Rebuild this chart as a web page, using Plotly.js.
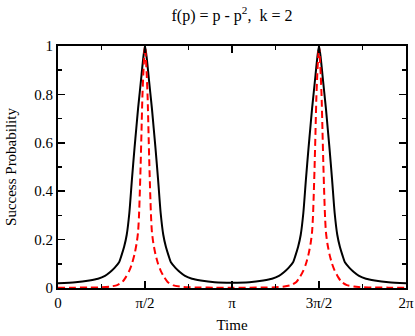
<!DOCTYPE html>
<html>
<head>
<meta charset="utf-8">
<script src="https://cdn.plot.ly/plotly-3.0.1.min.js"></script>
<style>
  body { margin: 0; background: #fff; }
  #graph { width: 415px; height: 336px; }
</style>
</head>
<body>
<div id="graph"></div>
<script>
// time in units of pi
const blackX = [0, 0.1, 0.18, 0.23, 0.27, 0.3, 0.325, 0.35, 0.365, 0.38, 0.395, 0.41, 0.425, 0.44, 0.45, 0.46, 0.47, 0.48, 0.49, 0.5,
  0.51, 0.52, 0.53, 0.54, 0.55, 0.56, 0.575, 0.59, 0.605, 0.62, 0.635, 0.65, 0.675, 0.7, 0.73, 0.77, 0.82, 0.9, 1.0,
  1.1, 1.18, 1.23, 1.27, 1.3, 1.325, 1.35, 1.365, 1.38, 1.395, 1.41, 1.425, 1.44, 1.45, 1.46, 1.47, 1.48, 1.49, 1.5,
  1.51, 1.52, 1.53, 1.54, 1.55, 1.56, 1.575, 1.59, 1.605, 1.62, 1.635, 1.65, 1.675, 1.7, 1.73, 1.77, 1.82, 1.9, 2.0];
const blackY = [0.02, 0.024, 0.031, 0.038, 0.05, 0.066, 0.083, 0.105, 0.135, 0.17, 0.22, 0.31, 0.45, 0.58, 0.66, 0.74, 0.81, 0.88, 0.95, 1.0,
  0.95, 0.88, 0.81, 0.74, 0.66, 0.58, 0.45, 0.31, 0.22, 0.17, 0.135, 0.105, 0.083, 0.066, 0.05, 0.038, 0.031, 0.024, 0.022,
  0.024, 0.031, 0.038, 0.05, 0.066, 0.083, 0.105, 0.135, 0.17, 0.22, 0.31, 0.45, 0.58, 0.66, 0.74, 0.81, 0.88, 0.95, 1.0,
  0.95, 0.88, 0.81, 0.74, 0.66, 0.58, 0.45, 0.31, 0.22, 0.17, 0.135, 0.105, 0.083, 0.066, 0.05, 0.038, 0.031, 0.024, 0.02];

const redX = [0, 0.1, 0.18, 0.25, 0.3, 0.34, 0.37, 0.39, 0.41, 0.425, 0.44, 0.452, 0.46, 0.465, 0.47, 0.475, 0.48, 0.485, 0.49, 0.495, 0.5,
  0.505, 0.51, 0.515, 0.52, 0.525, 0.53, 0.535, 0.54, 0.548, 0.56, 0.575, 0.59, 0.61, 0.63, 0.66, 0.7, 0.75, 0.82, 0.9, 1.0,
  1.1, 1.18, 1.25, 1.3, 1.34, 1.37, 1.39, 1.41, 1.425, 1.44, 1.452, 1.46, 1.465, 1.47, 1.475, 1.48, 1.485, 1.49, 1.495, 1.5,
  1.505, 1.51, 1.515, 1.52, 1.525, 1.53, 1.535, 1.54, 1.548, 1.56, 1.575, 1.59, 1.61, 1.63, 1.66, 1.7, 1.75, 1.82, 1.9, 2.0];
const redY = [0.001, 0.0015, 0.002, 0.003, 0.006, 0.012, 0.025, 0.045, 0.072, 0.1, 0.14, 0.185, 0.23, 0.29, 0.39, 0.51, 0.65, 0.79, 0.88, 0.95, 1.0,
  0.95, 0.88, 0.79, 0.65, 0.51, 0.39, 0.29, 0.23, 0.185, 0.14, 0.1, 0.072, 0.045, 0.025, 0.012, 0.006, 0.003, 0.002, 0.0015, 0.001,
  0.0015, 0.002, 0.003, 0.006, 0.012, 0.025, 0.045, 0.072, 0.1, 0.14, 0.185, 0.23, 0.29, 0.39, 0.51, 0.65, 0.79, 0.88, 0.95, 1.0,
  0.95, 0.88, 0.79, 0.65, 0.51, 0.39, 0.29, 0.23, 0.185, 0.14, 0.1, 0.072, 0.045, 0.025, 0.012, 0.006, 0.003, 0.002, 0.0015, 0.001];

const xTickVals = [0, 0.5, 1, 1.5, 2];
const xTickText = ['0', 'π/2', 'π', '3π/2', '2π'];
const xMinorVals = [0.25, 0.75, 1.25, 1.75];
const yTickVals = [0, 0.2, 0.4, 0.6, 0.8, 1];
const yTickText = ['0', '0.2', '0.4', '0.6', '0.8', '1'];

const serif = '"Liberation Serif", "Times New Roman", Times, serif';

const traces = [
  {
    x: blackX, y: blackY,
    mode: 'lines', type: 'scatter',
    line: { color: 'black', width: 2, shape: 'spline', smoothing: 0.7 },
    hoverinfo: 'skip'
  },
  {
    x: redX, y: redY,
    mode: 'lines', type: 'scatter',
    line: { color: '#ff0000', width: 2, dash: '7px,4px', shape: 'spline', smoothing: 0.6 },
    hoverinfo: 'skip'
  }
];

const axisCommon = {
  showgrid: false,
  zeroline: false,
  showline: true,
  linecolor: 'black',
  linewidth: 2,
  mirror: 'allticks',
  ticks: 'inside',
  ticklen: 7,
  tickwidth: 1.5,
  tickcolor: 'black',
  tickfont: { family: serif, size: 15, color: 'black' }
};

const layout = {
  width: 415,
  height: 336,
  margin: { l: 58, r: 9, t: 46, b: 48 },
  paper_bgcolor: 'white',
  plot_bgcolor: 'white',
  showlegend: false,
  font: { family: serif, color: 'black' },
  title: {
    text: 'f(p) = p - p<sup>2</sup>,  k = 2',
    font: { family: serif, size: 16, color: 'black' },
    x: 0.559, xanchor: 'center',
    y: 0.955, yanchor: 'middle'
  },
  xaxis: Object.assign({}, axisCommon, {
    range: [0, 2],
    tickmode: 'array',
    tickvals: xTickVals,
    ticktext: xTickText,
    minor: { tickmode: 'array', tickvals: xMinorVals, ticks: 'inside', ticklen: 4, tickwidth: 1.5, tickcolor: 'black' },
    title: { text: 'Time', font: { family: serif, size: 15, color: 'black' }, standoff: 9 }
  }),
  yaxis: Object.assign({}, axisCommon, {
    range: [0, 1],
    tickmode: 'array',
    tickvals: yTickVals,
    ticktext: yTickText,
    minor: { dtick: 0.1, ticks: 'inside', ticklen: 4, tickwidth: 1.5, tickcolor: 'black' },
    title: { text: 'Success Probability', font: { family: serif, size: 15, color: 'black' }, standoff: 14 }
  })
};

Plotly.newPlot('graph', traces, layout, { displayModeBar: false, staticPlot: true });
</script>
</body>
</html>
